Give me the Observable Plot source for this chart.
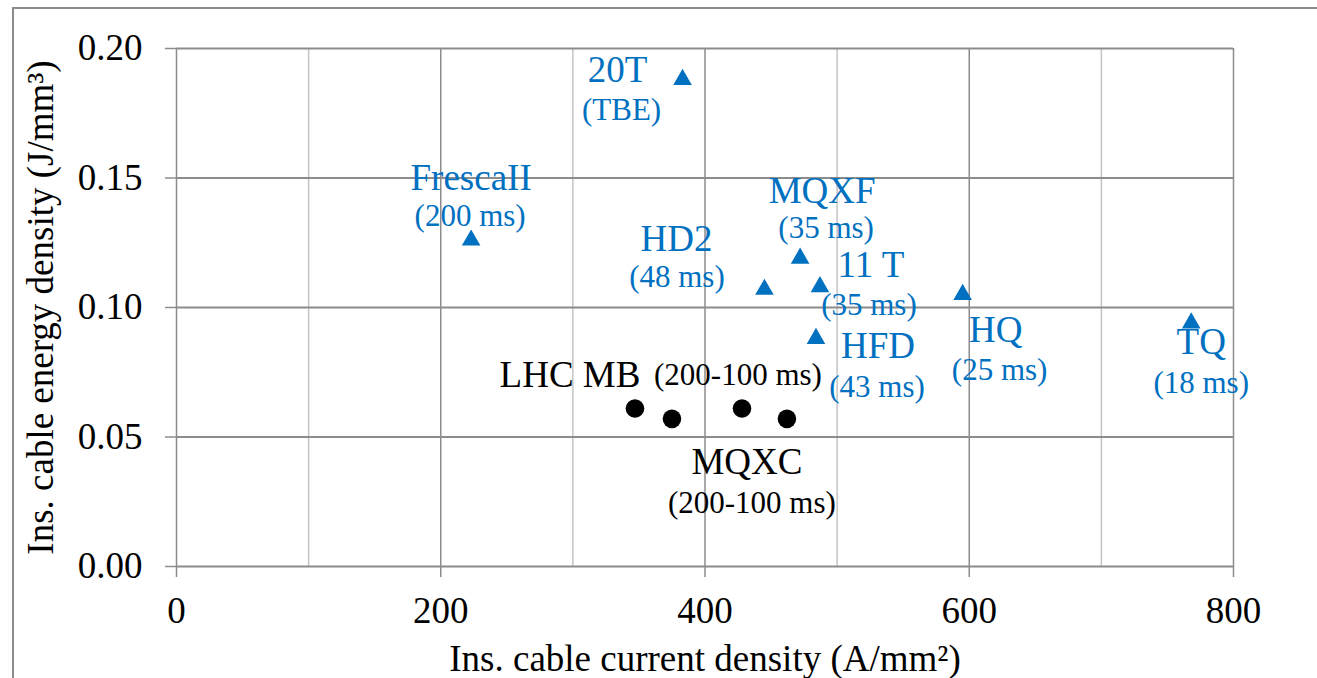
<!DOCTYPE html>
<html>
<head>
<meta charset="utf-8">
<script src="https://cdn.jsdelivr.net/npm/d3@7"></script>
<script src="https://cdn.jsdelivr.net/npm/@observablehq/plot@0.6"></script>
<style>
  html, body { margin: 0; padding: 0; background: #fff; overflow: hidden; }
  #wrap { position: relative; width: 1317px; height: 678px; overflow: hidden; }
  #border { position: absolute; left: 12px; top: 7px; width: 1400px; height: 800px; border: 2px solid #8c8c8c; box-sizing: border-box; }
  #chart { position: absolute; left: 0; top: 0; }
</style>
</head>
<body>
<div id="wrap"><div id="border"></div><div id="chart"></div></div>
<script>
// ---- data ----
const magnetNames = ["20T", "FrescaII", "HD2", "MQXF", "11 T", "HFD", "HQ", "TQ"];
const magnetNotes = ["(TBE)", "(200 ms)", "(48 ms)", "(35 ms)", "(35 ms)", "(43 ms)", "(25 ms)", "(18 ms)"];
const magnetCurrent = [383, 223, 445, 472, 487, 484, 595, 768];
const magnetEnergy = [0.188, 0.126, 0.107, 0.119, 0.108, 0.088, 0.105, 0.094];

const nbtiCurrent = [347, 375, 428, 462];
const nbtiEnergy = [0.061, 0.057, 0.061, 0.057];

const xTicks = [0, 200, 400, 600, 800];
const xMinorGrid = [100, 300, 500, 700];
const yTicks = [0, 0.05, 0.10, 0.15, 0.20];

const xTitle = "Ins. cable current density (A/mm²)";
const yTitle = "Ins. cable energy density (J/mm³)";

// ---- label placement (pixel offsets from the marker) ----
const nameOffsets = [[-65, -9], [0, -62], [-88, -50], [22, -67], [51, -21.5], [62, 8], [33, 35.5], [10, 19.5]];
const noteOffsets = [[-61, 30], [-1, -24], [-87.5, -12], [26, -30], [49, 18.5], [61, 48], [37, 75.5], [10, 60.5]];

const blackLabels = [
  {anchor: 0, text: "LHC MB", size: 37, dx: -65, dy: -33.5},
  {anchor: 0, text: "(200-100 ms)", size: 31, dx: 103, dy: -33.5},
  {anchor: 3, text: "MQXC", size: 37, dx: -40, dy: 43},
  {anchor: 3, text: "(200-100 ms)", size: 31, dx: -35, dy: 84.5}
];

const blue = "#0070C0";
const magnets = magnetNames.map((n, i) => ({name: n, note: magnetNotes[i], x: magnetCurrent[i], y: magnetEnergy[i]}));
const nbti = nbtiCurrent.map((x, i) => ({x, y: nbtiEnergy[i]}));

const labelMarks = [];
magnets.forEach((m, i) => {
  labelMarks.push(Plot.text([m], {x: "x", y: "y", text: "name", dx: nameOffsets[i][0], dy: nameOffsets[i][1], fontSize: 37, fill: blue, textAnchor: "middle", lineAnchor: "middle"}));
  labelMarks.push(Plot.text([m], {x: "x", y: "y", text: "note", dx: noteOffsets[i][0], dy: noteOffsets[i][1], fontSize: 31, fill: blue, textAnchor: "middle", lineAnchor: "middle"}));
});
blackLabels.forEach(l => {
  labelMarks.push(Plot.text([nbti[l.anchor]], {x: "x", y: "y", text: () => l.text, dx: l.dx, dy: l.dy, fontSize: l.size, fill: "black", textAnchor: "middle", lineAnchor: "middle"}));
});

const chart = Plot.plot({
  width: 1317,
  height: 678,
  marginLeft: 176,
  marginRight: 84,
  marginTop: 48,
  marginBottom: 112,
  style: {fontFamily: "'Liberation Serif', 'Times New Roman', serif", background: "transparent", color: "black"},
  x: {domain: [0, 800]},
  y: {domain: [0, 0.2]},
  marks: [
    Plot.gridX(xMinorGrid, {stroke: "#c4c4c4", strokeOpacity: 1, strokeWidth: 1.5}),
    Plot.gridX(xTicks, {stroke: "#8c8c8c", strokeOpacity: 1, strokeWidth: 1.5}),
    Plot.gridY(yTicks, {stroke: "#8c8c8c", strokeOpacity: 1, strokeWidth: 2}),
    Plot.axisY(yTicks, {tickFormat: d3.format(".2f"), tickSize: 11, tickPadding: 23, fontSize: 37, label: null, color: "black", stroke: "#8c8c8c", strokeWidth: 1.5}),
    Plot.axisX(xTicks, {tickFormat: d3.format("d"), tickSize: 11, tickPadding: 19, fontSize: 37, label: null, color: "black", stroke: "#8c8c8c", strokeWidth: 1.5}),
    Plot.text([xTitle], {frameAnchor: "bottom", dy: 93, fontSize: 37, fill: "black", lineAnchor: "middle"}),
    Plot.text([yTitle], {frameAnchor: "left", dx: -135.5, rotate: -90, fontSize: 37, fill: "black", lineAnchor: "middle", textAnchor: "middle"}),
    Plot.dot(magnets, {x: "x", y: "y", symbol: "triangle", r: 6.9, fill: blue, stroke: null}),
    Plot.dot(nbti, {x: "x", y: "y", r: 9.3, fill: "black", stroke: null}),
    ...labelMarks
  ]
});
document.getElementById("chart").appendChild(chart);
</script>
</body>
</html>
